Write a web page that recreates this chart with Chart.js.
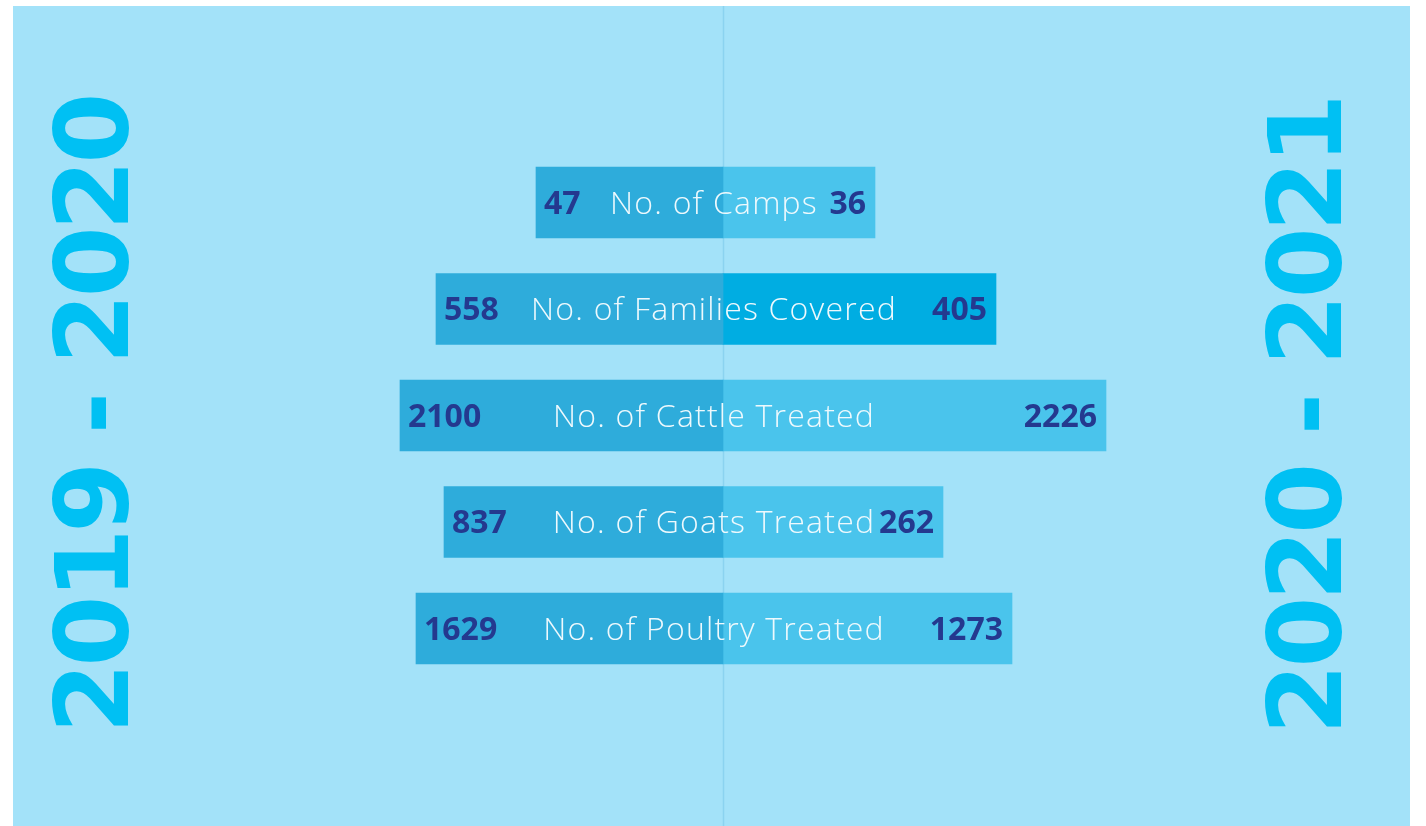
<!DOCTYPE html>
<html>
<head>
<meta charset="utf-8">
<script src="https://cdn.jsdelivr.net/npm/chart.js@4.4.1/dist/chart.umd.min.js"></script>
<style>
  html, body { margin: 0; padding: 0; background: #ffffff; width: 1426px; height: 826px; overflow: hidden; }
  #panel { position: absolute; left: 13px; top: 6px; width: 1397px; height: 820px; background: #a3e2f9; }
  #c { display: block; }
</style>
</head>
<body>
<div id="panel"><canvas id="c" width="1397" height="820"></canvas></div>
<script>
// ---- data ----
const categories = ['No. of Camps', 'No. of Families Covered', 'No. of Cattle Treated', 'No. of Goats Treated', 'No. of Poultry Treated'];
const periodLabels = ['2019 - 2020', '2020 - 2021'];
const values2019 = [47, 558, 2100, 837, 1629];
const values2020 = [36, 405, 2226, 262, 1273];
// displayed bar extent of each side (infographic, not proportional to the values)
const extent2019 = [187, 287, 323, 279, 307];
const extent2020 = [152, 273, 383, 220, 289];

const COL_LEFT = '#2eacdb';
const COL_RIGHT = '#4ac4ec';
const COL_RIGHT_HL = '#00ade2';
const COL_NUM = '#24398f';
const COL_LABEL = '#eef9fd';
const COL_YEAR = '#00c0f3';
const COL_CENTER = '#8bd3f0';

const centerLine = {
  id: 'centerLine',
  beforeDatasetsDraw(chart) {
    const ctx = chart.ctx;
    const x = Math.round(chart.scales.x.getPixelForValue(0)) + 0.5;
    ctx.save();
    ctx.strokeStyle = COL_CENTER;
    ctx.lineWidth = 1.5;
    ctx.beginPath();
    ctx.moveTo(x, 0);
    ctx.lineTo(x, chart.height);
    ctx.stroke();
    ctx.restore();
  }
};

const textPlugin = {
  id: 'texts',
  afterDatasetsDraw(chart) {
    const ctx = chart.ctx;
    const xs = chart.scales.x, ys = chart.scales.y;
    ctx.save();
    if ('letterSpacing' in ctx) ctx.letterSpacing = '0px';
    categories.forEach((cat, i) => {
      const y = ys.getPixelForValue(i);
      // numbers
      ctx.font = '700 32px "Open Sans"';
      ctx.fillStyle = COL_NUM;
      ctx.textBaseline = 'alphabetic';
      const capN = 32 * 0.714;
      ctx.textAlign = 'left';
      ctx.fillText(String(values2019[i]), xs.getPixelForValue(-extent2019[i]) + 8, y + capN / 2);
      ctx.textAlign = 'right';
      ctx.fillText(String(values2020[i]), xs.getPixelForValue(extent2020[i]) - 9, y + capN / 2);
      // category label
      ctx.font = '300 32px "Open Sans"';
      if ('letterSpacing' in ctx) ctx.letterSpacing = '1.2px';
      ctx.fillStyle = COL_LABEL;
      ctx.textAlign = 'center';
      const capL = 32 * 0.714;
      ctx.fillText(cat, xs.getPixelForValue(0) - 9, y + capL / 2);
      if ('letterSpacing' in ctx) ctx.letterSpacing = '0px';
    });
    // rotated period titles
    const size = 102;
    const cap = size * 0.729;
    ctx.font = 'bold ' + size + 'px "DejaVu Sans"';
    if ('letterSpacing' in ctx) ctx.letterSpacing = '-4px';
    ctx.fillStyle = COL_YEAR;
    ctx.textAlign = 'center';
    ctx.textBaseline = 'alphabetic';
    const spots = [[78, 409], [1291, 410]];
    periodLabels.forEach((t, k) => {
      ctx.save();
      ctx.translate(spots[k][0], spots[k][1]);
      ctx.rotate(-Math.PI / 2);
      ctx.fillText(t, 0, cap / 2);
      ctx.restore();
    });
    ctx.restore();
  }
};

new Chart(document.getElementById('c'), {
  type: 'bar',
  data: {
    labels: categories,
    datasets: [
      {
        label: periodLabels[0],
        data: extent2019.map(v => [-v, 0]),
        backgroundColor: COL_LEFT,
        borderWidth: 0,
        barThickness: 71,
        grouped: false
      },
      {
        label: periodLabels[1],
        data: extent2020.map(v => [0, v]),
        backgroundColor: extent2020.map((v, i) => i === 1 ? COL_RIGHT_HL : COL_RIGHT),
        borderWidth: 0,
        barThickness: 71,
        grouped: false
      }
    ]
  },
  options: {
    indexAxis: 'y',
    responsive: false,
    animation: false,
    layout: { padding: { left: 0, right: 0, top: 143.25, bottom: 144.25 } },
    plugins: { legend: { display: false }, tooltip: { enabled: false }, title: { display: false } },
    scales: {
      x: { type: 'linear', min: -710, max: 687, display: false },
      y: { type: 'category', display: false, offset: true }
    }
  },
  plugins: [centerLine, textPlugin]
});
</script>
</body>
</html>
